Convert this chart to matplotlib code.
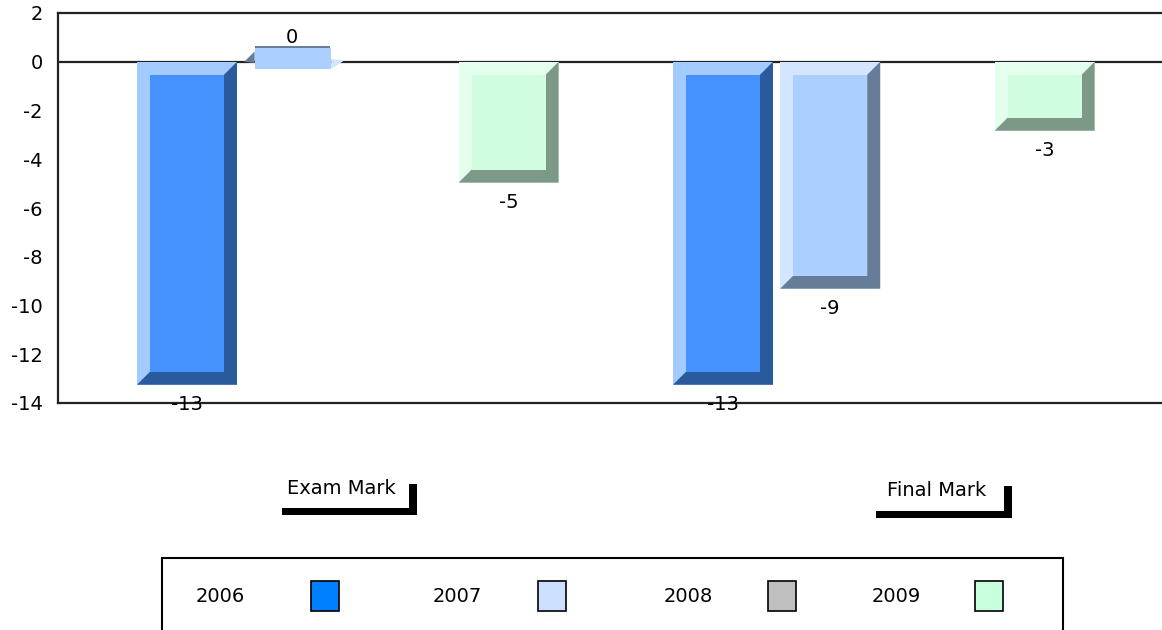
import matplotlib
matplotlib.use("Agg")
import matplotlib.pyplot as plt
from matplotlib.patches import Rectangle, Polygon

plt.rcParams['font.family'] = ['DejaVu Sans']

# ---- data ----
groups = ["Exam Mark", "Final Mark"]
years = ["2006", "2007", "2008", "2009"]
exam_values = [-13.25, 0.0, None, -4.96]
final_values = [-13.25, -9.31, None, -2.83]
yticks = [2, 0, -2, -4, -6, -8, -10, -12, -14]

# ---- styles ----
face_colors = ["#4592FF", "#ABCFFF", "#C0C0C0", "#D0FDE0"]
light_colors = ["#A3CBFF", "#D4E6FF", "#E0E0E0", "#E5FFEF"]
dark_colors = ["#285A9C", "#667C99", "#808080", "#7D9886"]
legend_colors = ["#0080FF", "#CCE0FF", "#C0C0C0", "#C8FFDC"]
FS = 14

W, H = 1162, 630
fig = plt.figure(figsize=(W / 100, H / 100), dpi=100)
ax = fig.add_axes([58 / W, (H - 403) / H, (W - 58) / W, 390 / H])

ax.set_ylim(-14, 2)
ax.set_xlim(-1.2034, 9.095)
ax.set_yticks(yticks)
ax.set_yticklabels([str(t) for t in yticks])
ax.set_xticks([])
ax.tick_params(axis='y', length=0, pad=11, labelsize=FS)
for s in ['left', 'top', 'bottom']:
    ax.spines[s].set_color('#222222')
    ax.spines[s].set_linewidth(1.6)
ax.spines['right'].set_visible(False)
ax.axhline(0, color='#222222', lw=1.6, zorder=1)

bw = 0.933
bx = 13 / 107.2
by = 13 / 24.375

all_values = [exam_values, final_values]
for g, vals in enumerate(all_values):
    for i, v in enumerate(vals):
        if v is None:
            continue
        pos = g * 5 + i
        x0, x1 = pos - bw / 2, pos + bw / 2
        if v == 0:
            top, bot = 0.55, -0.29
            ax.add_patch(Rectangle((x0 + 0.8 * bx, bot), (x1 - bx) - (x0 + 0.8 * bx), top - bot,
                                   facecolor=face_colors[i], edgecolor='none', zorder=2))
            ax.add_patch(Rectangle((x0 + 0.8 * bx, top), (x1 - 1.1 * bx) - (x0 + 0.8 * bx), 0.08,
                                   facecolor=dark_colors[i], edgecolor='none', zorder=2))
            ax.add_patch(Polygon([(x0, 0), (x0 + 0.8 * bx, 0.42), (x0 + 0.8 * bx, -0.05)],
                                 closed=True, facecolor=dark_colors[i], edgecolor='none', zorder=2))
            ax.add_patch(Polygon([(x1 - bx, 0.12), (x1, 0.05), (x1 - bx, -0.29)],
                                 closed=True, facecolor=light_colors[i], edgecolor='none', zorder=2))
            ax.annotate(f"{v:.0f}", (pos - 0.02, top), xytext=(0, 8), textcoords='offset points',
                        ha='center', va='center', fontsize=FS)
            continue
        ax.bar(pos, v, width=bw, color=light_colors[i], edgecolor='none', zorder=2)
        top, bot = 0, v
        ax.add_patch(Polygon([(x1, top), (x1, bot), (x0, bot), (x0 + bx, bot + by),
                              (x1 - bx, bot + by), (x1 - bx, top - by)],
                             closed=True, facecolor=dark_colors[i], edgecolor='none', zorder=3))
        ax.add_patch(Rectangle((x0 + bx, bot + by), bw - 2 * bx, (top - by) - (bot + by),
                               facecolor=face_colors[i], edgecolor='none', zorder=3))
        ax.annotate(f"{v:.0f}", (pos, bot), xytext=(0, -14.5), textcoords='offset points',
                    ha='center', va='center', fontsize=FS, zorder=5)


def px_rect(x0, y0, x1, y1, **kw):
    r = Rectangle((x0 / W, 1 - y1 / H), (x1 - x0) / W, (y1 - y0) / H,
                  transform=fig.transFigure, **kw)
    fig.add_artist(r)
    return r


# group labels with brackets
group_label_x = [341, 937]
group_label_y = [488, 491]
brackets = [(282, 508, 417, 515, 409, 484), (876, 511, 1012, 518, 1004, 486)]
for name, lx, ly, (hx0, hy0, hx1, hy1, vx0, vy0) in zip(groups, group_label_x, group_label_y, brackets):
    fig.text(lx / W, 1 - ly / H, name, ha='center', va='center', fontsize=FS)
    px_rect(hx0, hy0, hx1, hy1, facecolor='black', edgecolor='none')
    px_rect(vx0, vy0, hx1, hy1, facecolor='black', edgecolor='none')

# legend box
px_rect(162, 558, 1063, 660, facecolor='none', edgecolor='black', linewidth=1.5)
legend_text_x = [220, 457, 688, 896]
legend_sw_x = [311, 538, 768, 975]
for yr, tx, sx, c in zip(years, legend_text_x, legend_sw_x, legend_colors):
    fig.text(tx / W, 1 - 597 / H, yr, ha='center', va='center', fontsize=FS)
    px_rect(sx, 581, sx + 28, 611, facecolor=c, edgecolor='black', linewidth=1.2)

fig.savefig("out.png", dpi=100, facecolor='white')
